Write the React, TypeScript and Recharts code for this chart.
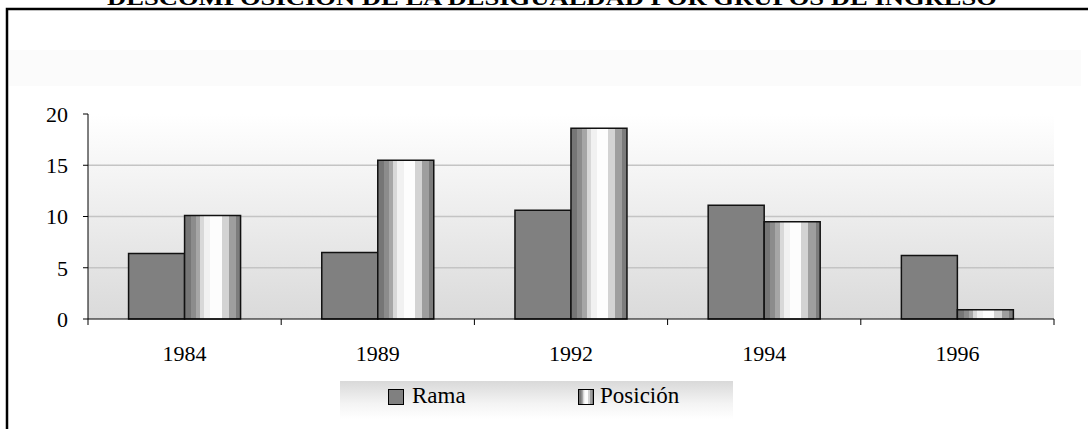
import React from "react";
import { BarChart, Bar, XAxis, YAxis, CartesianGrid, Legend } from "recharts";

const years = ["1984", "1989", "1992", "1994", "1996"];
const rama = [6.4, 6.5, 10.6, 11.1, 6.2];
const posicion = [10.1, 15.5, 18.6, 9.5, 0.9];
const yTicks = [0, 5, 10, 15, 20];
const seriesNames = ["Rama", "Posición"];

const data = years.map((year, i) => ({ year, rama: rama[i], posicion: posicion[i] }));

const W = 1088;
const H = 429;
const FONT = '"Liberation Serif", "Times New Roman", serif';
const MARGIN = { top: 114, right: 34, bottom: 50, left: 0 };
const Y_AXIS_W = 88;
const BAND = (W - MARGIN.left - Y_AXIS_W - MARGIN.right) / years.length;

// banded "cylinder" look of the Posición bars
const CYL_BANDS: [number, number, string][] = [
  [0, 0.11, "#767676"],
  [0.11, 0.2, "#8c8c8c"],
  [0.2, 0.28, "#a6a6a6"],
  [0.28, 0.35, "#d8d8d8"],
  [0.35, 0.46, "#f1f1f1"],
  [0.46, 0.66, "#fdfdfd"],
  [0.66, 0.79, "#d3d3d3"],
  [0.79, 0.92, "#9e9e9e"],
  [0.92, 1, "#7c7c7c"],
];

const cylStops = (prefix: string) =>
  CYL_BANDS.flatMap(([a, b, c], i) => [
    <stop key={`${prefix}a${i}`} offset={a} stopColor={c} />,
    <stop key={`${prefix}b${i}`} offset={b} stopColor={c} />,
  ]);

const cylCss = `linear-gradient(to right, ${CYL_BANDS.map(
  ([a, b, c]) => `${c} ${a * 100}%, ${c} ${b * 100}%`
).join(", ")})`;

const XTick = (props: any) => {
  const { x, y, payload, index } = props;
  const left = x - BAND / 2;
  return (
    <g>
      <line x1={left} x2={left} y1={y} y2={y + 6} stroke="#000" />
      {index === years.length - 1 && (
        <line x1={x + BAND / 2} x2={x + BAND / 2} y1={y} y2={y + 6} stroke="#000" />
      )}
      <text x={x} y={y + 42} textAnchor="middle" fontFamily={FONT} fontSize={22} fill="#000">
        {payload.value}
      </text>
    </g>
  );
};

const LegendBox = () => (
  <div
    style={{
      position: "relative",
      width: 393,
      height: 38,
      background: "linear-gradient(to bottom, #d9d9d9, #f4f4f4 60%, #ffffff)",
      fontFamily: FONT,
      fontSize: 23,
      color: "#000",
    }}
  >
    <div style={{ position: "absolute", left: 48, top: 8, width: 14, height: 14, background: "#808080", border: "1.5px solid #000" }} />
    <div style={{ position: "absolute", left: 72, top: 2, lineHeight: "26px" }}>{seriesNames[0]}</div>
    <div style={{ position: "absolute", left: 238, top: 8, width: 14, height: 14, background: cylCss, border: "1.5px solid #000" }} />
    <div style={{ position: "absolute", left: 260, top: 2, lineHeight: "26px" }}>{seriesNames[1]}</div>
  </div>
);

export default function App() {
  return (
    <div style={{ position: "absolute", left: 0, top: 0, width: W, height: H, overflow: "hidden", background: "#fff" }}>
      <svg width={W} height={H} style={{ position: "absolute", left: 0, top: 0 }}>
        <text
          x={107}
          y={5}
          textLength={890}
          lengthAdjust="spacingAndGlyphs"
          fontFamily={FONT}
          fontWeight="bold"
          fontSize={22}
          fill="#000"
        >
          DESCOMPOSICIÓN DE LA DESIGUALDAD POR GRUPOS DE INGRESO
        </text>
        <rect x={9} y={50} width={1072} height={36} fill="#fbfbfb" />
        <path d={`M7,${H + 5} L7,9 L${W + 5},9`} fill="none" stroke="#000" strokeWidth={2.5} />
      </svg>
      <div style={{ position: "absolute", left: 0, top: 0 }}>
        <BarChart width={W} height={H} data={data} margin={MARGIN} barCategoryGap="21%" barGap={0}>
          <defs>
            <linearGradient id="plotBg" x1="0" y1="0" x2="0" y2="1">
              <stop offset="0" stopColor="#ffffff" />
              <stop offset="1" stopColor="#dadada" />
            </linearGradient>
            <linearGradient id="cyl" x1="0" y1="0" x2="1" y2="0">
              {cylStops("c")}
            </linearGradient>
          </defs>
          <CartesianGrid
            vertical={false}
            horizontalValues={[5, 10, 15]}
            stroke="#c4c4c4"
            strokeWidth={1.5}
            fill="url(#plotBg)"
            fillOpacity={1}
          />
          <XAxis
            dataKey="year"
            height={60}
            axisLine={{ stroke: "#000" }}
            tickLine={false}
            tickSize={0}
            tickMargin={0}
            tick={<XTick />}
            interval={0}
          />
          <YAxis
            width={Y_AXIS_W}
            domain={[0, 20]}
            ticks={yTicks}
            interval={0}
            axisLine={{ stroke: "#000" }}
            tickLine={{ stroke: "#000" }}
            tickSize={5}
            tickMargin={15}
            tick={{ fill: "#000", fontFamily: FONT, fontSize: 22 }}
          />
          <Bar dataKey="rama" name={seriesNames[0]} fill="#808080" stroke="#111" strokeWidth={1.5} isAnimationActive={false} />
          <Bar dataKey="posicion" name={seriesNames[1]} fill="url(#cyl)" stroke="#111" strokeWidth={1.5} isAnimationActive={false} />
          <Legend
            layout="horizontal"
            verticalAlign="middle"
            align="center"
            content={<LegendBox />}
            wrapperStyle={{ left: 340, top: 381, width: 393, height: 38 }}
          />
        </BarChart>
      </div>
    </div>
  );
}
